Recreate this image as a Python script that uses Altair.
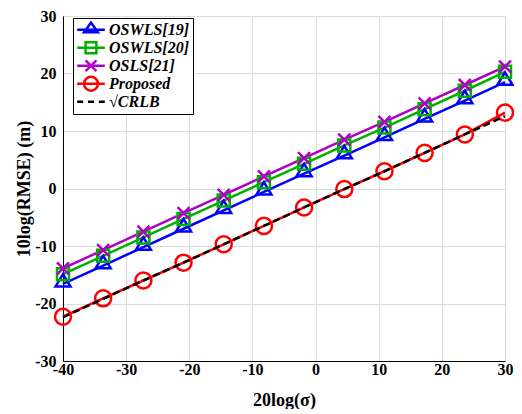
import altair as alt
import pandas as pd

# ---- data ----
x_vals = [-40, -33.64, -27.27, -20.91, -14.55, -8.18, -1.82, 4.55, 10.91, 17.27, 23.64, 30]
oswls19 = [-16.6, -13.4, -10.2, -7.0, -3.8, -0.6, 2.6, 5.7, 8.9, 12.1, 15.3, 18.5]
oswls20 = [-14.9, -11.7, -8.5, -5.3, -2.1, 1.1, 4.3, 7.5, 10.6, 13.8, 17.0, 20.3]
osls21 = [-13.9, -10.7, -7.5, -4.3, -1.1, 2.1, 5.3, 8.5, 11.6, 14.8, 18.0, 21.2]
proposed = [-22.3, -19.1, -16.0, -12.9, -9.7, -6.5, -3.3, -0.1, 3.0, 6.2, 9.4, 13.2]
crlb = [-22.4, -19.2, -16.0, -12.9, -9.7, -6.5, -3.3, -0.1, 3.0, 6.2, 9.4, 12.6]

series_names = ["OSWLS[19]", "OSWLS[20]", "OSLS[21]", "Proposed", "√CRLB"]
series_colors = ["#0000FF", "#00B000", "#B000C8", "#FF0000", "#000000"]
x_ticks = [-40, -30, -20, -10, 0, 10, 20, 30]
y_ticks = [-30, -20, -10, 0, 10, 20, 30]

# marker shapes (unit box -1..1)
marker_paths = [
    "M-1,0.35L0,-1.3L1,0.35Z",
    "M-0.8,-0.8H0.8V0.8H-0.8Z",
    "M-0.8,-0.8L0.8,0.8M-0.8,0.8L0.8,-0.8",
    "M1.07,0A1.07,1.07,0,1,1,-1.07,0A1.07,1.07,0,1,1,1.07,0Z",
    "M0,0",
]
legend_paths = [
    "M-2.3,0H2.3M-1.15,0.4L0,-1.2L1.15,0.4Z",
    "M-2.3,0H2.3M-0.9,-0.9H0.9V0.9H-0.9Z",
    "M-2.3,0H2.3M-0.9,-0.9L0.9,0.9M-0.9,0.9L0.9,-0.9",
    "M-2.3,0H2.3M1.15,0A1.15,1.15,0,1,1,-1.15,0A1.15,1.15,0,1,1,1.15,0Z",
    "M-2.3,0H-1.3M-0.5,0H0.5M1.3,0H2.3",
]

all_vals = [oswls19, oswls20, osls21, proposed, crlb]
rows = []
for name, vals in zip(series_names, all_vals):
    for xv, yv in zip(x_vals, vals):
        rows.append({"x": xv, "y": yv, "series": name})
df = pd.DataFrame(rows)

xenc = alt.X("x:Q", scale=alt.Scale(domain=[-40, 30], nice=False),
             axis=alt.Axis(values=x_ticks, title="20log(σ)", titlePadding=14,
                           labelExpr="'' + datum.value"))
yenc = alt.Y("y:Q", scale=alt.Scale(domain=[-30, 30], nice=False),
             axis=alt.Axis(values=y_ticks, title="10log(RMSE) (m)", titlePadding=1,
                           labelExpr="'' + datum.value"))
color_enc = alt.Color("series:N", scale=alt.Scale(domain=series_names, range=series_colors), legend=None)

base = alt.Chart(df)

lines = base.transform_filter(alt.datum.series != "√CRLB").mark_line(strokeWidth=2.5).encode(
    x=xenc, y=yenc, color=color_enc, detail="series:N")

points = base.transform_filter(alt.datum.series != "√CRLB").mark_point(
    filled=False, size=225, strokeWidth=2.5, opacity=1).encode(
    x=xenc, y=yenc, color=color_enc,
    shape=alt.Shape("series:N", scale=alt.Scale(domain=series_names, range=marker_paths), legend=None))

crlb_line = base.transform_filter(alt.datum.series == "√CRLB").mark_line(
    strokeWidth=2.5, strokeDash=[7, 4], color="#000000").encode(x=xenc, y=yenc)

leg = dict(
    title=None, orient="none", legendX=10, legendY=2,
    strokeColor="#000000", fillColor="#FFFFFF", padding=3,
    labelFont="Liberation Serif", labelFontSize=16, labelFontWeight="bold",
    labelFontStyle="italic", labelColor="#000000", labelOffset=10,
    symbolSize=144, symbolStrokeWidth=2.5, symbolOffset=7, rowPadding=0,
    clipHeight=17.5,
    symbolOpacity=1, symbolFillColor="transparent", cornerRadius=0,
)

legend_layer = base.mark_point(filled=False, opacity=0, size=144, strokeWidth=2.5).encode(
    x=xenc, y=yenc,
    stroke=alt.Stroke("series:N", scale=alt.Scale(domain=series_names, range=series_colors),
                      legend=alt.Legend(**leg)),
    shape=alt.Shape("series:N", scale=alt.Scale(domain=series_names, range=legend_paths),
                    legend=alt.Legend(**leg)),
)

chart = alt.layer(lines, points, crlb_line, legend_layer).resolve_scale(
    shape="independent", stroke="independent"
).properties(
    width=442, height=345,
    autosize=alt.AutoSizeParams(type="none"),
    padding={"left": 55, "top": 8, "right": 9, "bottom": 48},
).configure_view(stroke=None).configure_axis(
    labelFont="Liberation Serif", labelFontSize=16, labelFontWeight="bold", labelColor="#000000",
    titleFont="Liberation Serif", titleFontSize=18, titleFontWeight="bold", titleColor="#000000",
    domainColor="#000000", domainWidth=1, ticks=False,
    gridColor="#DCDCDC", gridWidth=1, labelFlush=False,
).configure_axisX(labelPadding=0).configure_axisY(labelPadding=7)

chart.save("out.html", embed_options={"renderer": "svg", "actions": False})
